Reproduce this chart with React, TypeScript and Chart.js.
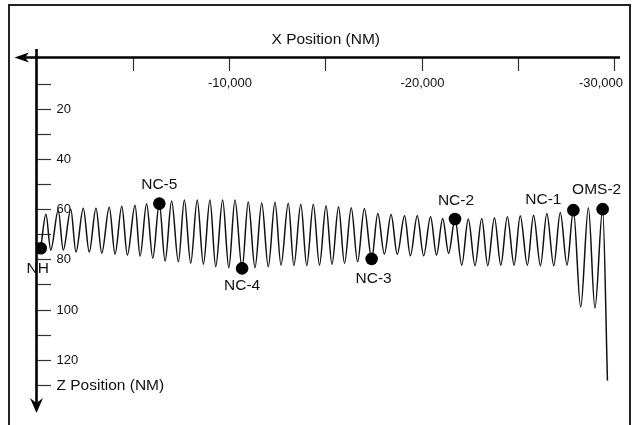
import React, { useEffect, useRef } from 'react';
import { Chart, registerables } from 'chart.js';

Chart.register(...registerables);

// Trajectory (X position in NM, Z position in NM), peaks and troughs
const trajX = [
  -220, -490, -740, -1130, -1390, -1780, -2050, -2430, -2740, -3090,
  -3390, -3780, -4080, -4430, -4720, -5120, -5380, -5720, -6040, -6380,
  -6680, -7020, -7370, -7680, -8010, -8350, -8670, -9010, -9310, -9670,
  -9990, -10310, -10680, -11000, -11350, -11700, -12040, -12390, -12700, -13080,
  -13370, -13730, -14040, -14380, -14700, -15040, -15350, -15690, -16000, -16350,
  -16680, -17030, -17410, -17730, -18070, -18420, -18740, -19120, -19420, -19780,
  -20110, -20470, -20780, -21100, -21410, -21740, -22090, -22430, -22780, -23130,
  -23440, -23790, -24120, -24460, -24810, -25130, -25500, -25820, -26180, -26510,
  -26870, -27210, -27560, -27890, -28270, -28670, -29010, -29410, -29660,
];
const trajZ = [
  75.6, 62.0, 76.3, 60.4, 76.3, 60.0, 77.1, 59.6, 77.1, 59.6,
  77.5, 59.2, 77.9, 58.8, 78.3, 58.4, 78.7, 57.9, 79.5, 57.8,
  80.7, 56.8, 81.0, 56.4, 81.5, 56.4, 81.9, 56.4, 82.9, 56.4,
  83.3, 56.4, 83.6, 57.2, 83.3, 57.6, 82.9, 57.3, 82.3, 57.7,
  82.5, 58.1, 82.5, 58.1, 82.3, 58.6, 82.0, 59.0, 81.6, 59.4,
  81.0, 59.7, 79.8, 61.7, 77.9, 62.1, 78.0, 62.6, 78.6, 62.6,
  78.6, 63.0, 78.3, 63.7, 77.6, 63.9, 82.3, 63.9, 82.5, 63.7,
  82.5, 63.4, 82.3, 63.0, 82.3, 62.6, 82.3, 62.4, 82.5, 61.7,
  82.5, 61.3, 82.3, 60.4, 99.0, 59.4, 99.4, 60.0, 128.3,
];

// Maneuver points
const maneuverNames = ['NH', 'NC-5', 'NC-4', 'NC-3', 'NC-2', 'NC-1', 'OMS-2'];
const maneuverX = [-220, -6380, -10680, -17410, -21740, -27890, -29410];
const maneuverZ = [75.6, 57.8, 83.6, 79.8, 63.9, 60.4, 60.0];

// Axes
const xMin = -30000;
const xMax = 0;
const zMin = 0;
const zMax = 140;
const xTicks = [-5000, -10000, -15000, -20000, -25000, -30000];
const xLabeledTicks = [-10000, -20000, -30000];
const zTicks = [10, 20, 30, 40, 50, 60, 70, 80, 90, 100, 110, 120, 130];
const zLabeledTicks = [20, 40, 60, 80, 100, 120];
const zTitleTick = 130;
const xTitle = 'X Position (NM)';
const zTitle = 'Z Position (NM)';

// label placement relative to marker (pixels) — styling only
const labelOffsets: Record<string, [number, number]> = {
  'NH': [-3, 20],
  'NC-5': [0, -19],
  'NC-4': [0, 17],
  'NC-3': [2, 20],
  'NC-2': [1, -18],
  'NC-1': [-30, -10],
  'OMS-2': [-6, -19],
};

const FONT = '"Liberation Sans", Arial, Helvetica, sans-serif';
const INK = '#111';

const decorPlugin = {
  id: 'decor',
  beforeDatasetsDraw(chart: any) {
    const ctx = chart.ctx as CanvasRenderingContext2D;
    const xs = chart.scales.x;
    const ys = chart.scales.y;
    const x0 = xs.getPixelForValue(0);
    const axisY = ys.getPixelForValue(0) - 1;
    ctx.save();

    // frame
    ctx.strokeStyle = '#222';
    ctx.lineWidth = 2;
    ctx.beginPath();
    ctx.moveTo(9, 440);
    ctx.lineTo(9, 5);
    ctx.lineTo(630, 5);
    ctx.lineTo(630, 440);
    ctx.stroke();

    // x ticks (pointing down)
    ctx.strokeStyle = '#333';
    ctx.lineWidth = 1.2;
    xTicks.forEach((v) => {
      const px = Math.round(xs.getPixelForValue(v)) + 0.5;
      ctx.beginPath();
      ctx.moveTo(px, axisY);
      ctx.lineTo(px, axisY + 13.5);
      ctx.stroke();
    });
    // z ticks (pointing right)
    zTicks.forEach((v) => {
      const py = Math.round(ys.getPixelForValue(v)) + 0.5;
      ctx.beginPath();
      ctx.moveTo(x0, py);
      ctx.lineTo(x0 + 14.5, py);
      ctx.stroke();
    });

    // horizontal axis line + arrow (points left)
    ctx.strokeStyle = '#000';
    ctx.fillStyle = '#000';
    ctx.lineWidth = 2.6;
    ctx.beginPath();
    ctx.moveTo(22, axisY);
    ctx.lineTo(620, axisY);
    ctx.stroke();
    ctx.beginPath();
    ctx.moveTo(14.5, axisY);
    ctx.lineTo(29, axisY - 5);
    ctx.lineTo(25, axisY);
    ctx.lineTo(29, axisY + 5);
    ctx.closePath();
    ctx.fill();

    // vertical axis line + arrow (points down)
    ctx.beginPath();
    ctx.moveTo(x0, 49);
    ctx.lineTo(x0, 405);
    ctx.stroke();
    ctx.beginPath();
    ctx.moveTo(x0, 413);
    ctx.lineTo(x0 - 6.5, 398);
    ctx.lineTo(x0, 403);
    ctx.lineTo(x0 + 6.5, 398);
    ctx.closePath();
    ctx.fill();

    // tick labels
    ctx.fillStyle = INK;
    ctx.font = `13px ${FONT}`;
    ctx.textBaseline = 'middle';
    ctx.textAlign = 'center';
    const rightLimit = 623;
    xLabeledTicks.forEach((v) => {
      const txt = v.toLocaleString('en-US');
      const w = ctx.measureText(txt).width;
      let cx = xs.getPixelForValue(v) + 1;
      if (cx + w / 2 > rightLimit) cx = rightLimit - w / 2;
      ctx.fillText(txt, cx, axisY + 25.5);
    });
    ctx.textAlign = 'left';
    zLabeledTicks.forEach((v) => {
      ctx.fillText(String(v), x0 + 20, ys.getPixelForValue(v) + 0.5);
    });

    // titles
    ctx.font = `15.5px ${FONT}`;
    ctx.textAlign = 'left';
    ctx.fillText(zTitle, x0 + 20, ys.getPixelForValue(zTitleTick) + 1);
    ctx.textAlign = 'center';
    ctx.fillText(xTitle, xs.getPixelForValue((xMin + xMax) / 2) + 0.5, axisY - 18);

    ctx.restore();
  },
  afterDatasetsDraw(chart: any) {
    const ctx = chart.ctx as CanvasRenderingContext2D;
    const xs = chart.scales.x;
    const ys = chart.scales.y;
    ctx.save();
    ctx.fillStyle = INK;
    ctx.font = `15.5px ${FONT}`;
    ctx.textAlign = 'center';
    ctx.textBaseline = 'middle';
    maneuverNames.forEach((name, i) => {
      const [dx, dy] = labelOffsets[name] || [0, -18];
      ctx.fillText(name, xs.getPixelForValue(maneuverX[i]) + dx, ys.getPixelForValue(maneuverZ[i]) + dy);
    });
    ctx.restore();
  },
};

export default function App() {
  const canvasRef = useRef<HTMLCanvasElement | null>(null);

  useEffect(() => {
    const canvas = canvasRef.current;
    if (!canvas) return;
    const trajectory = trajX.map((x, i) => ({ x, y: trajZ[i] }));
    const maneuvers = maneuverX.map((x, i) => ({ x, y: maneuverZ[i] }));

    const chart = new Chart(canvas, {
      type: 'scatter',
      data: {
        datasets: [
          {
            label: 'Maneuvers',
            data: maneuvers,
            pointRadius: 6.3,
            pointBackgroundColor: '#000',
            pointBorderColor: '#000',
            pointBorderWidth: 0,
            showLine: false,
            order: 0,
          },
          {
            label: 'Trajectory',
            data: trajectory,
            showLine: true,
            borderColor: '#111',
            borderWidth: 1.5,
            pointRadius: 0,
            cubicInterpolationMode: 'monotone',
            order: 1,
          },
        ],
      } as any,
      options: {
        animation: false,
        responsive: false,
        devicePixelRatio: 1,
        layout: { padding: { left: 36.5, right: 23, top: 58.5, bottom: 15 } },
        plugins: {
          legend: { display: false },
          tooltip: { enabled: false },
          title: { display: false },
        },
        scales: {
          x: { type: 'linear', min: xMin, max: xMax, reverse: true, display: false },
          y: { type: 'linear', min: zMin, max: zMax, reverse: true, display: false },
        },
      } as any,
      plugins: [decorPlugin],
    });
    return () => chart.destroy();
  }, []);

  return (
    <div style={{ position: 'fixed', left: 0, top: 0, width: 637, height: 425, background: '#fff' }}>
      <canvas ref={canvasRef} width={637} height={425} style={{ display: 'block' }} />
    </div>
  );
}
